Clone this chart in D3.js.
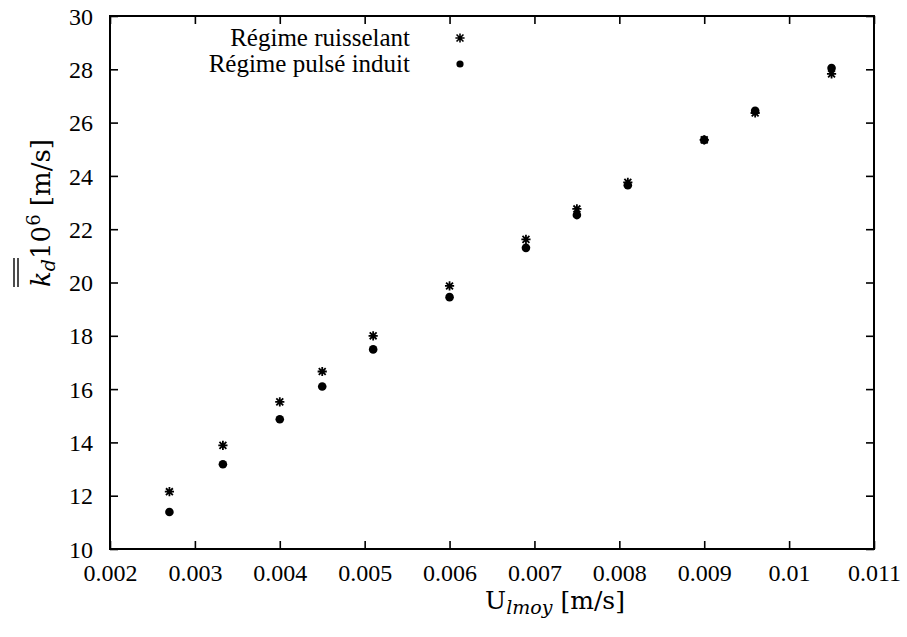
<!DOCTYPE html>
<html><head><meta charset="utf-8">
<script src="https://cdn.jsdelivr.net/npm/d3@7"></script>
<style>
body{margin:0;background:#fff;}
svg{display:block;}
</style></head>
<body><svg id="c" width="907" height="637"></svg>
<script>
const xValues = [0.0027, 0.00333, 0.0040, 0.0045, 0.0051, 0.0060, 0.0069, 0.0075, 0.0081, 0.0090, 0.0096, 0.0105];
const ruisselant = [12.15, 13.89, 15.52, 16.66, 18.0, 19.87, 21.62, 22.76, 23.76, 25.35, 26.36, 27.83];
const pulse = [11.39, 13.18, 14.87, 16.10, 17.49, 19.45, 21.30, 22.53, 23.65, 25.35, 26.44, 28.05];
const xTicks = [0.002, 0.003, 0.004, 0.005, 0.006, 0.007, 0.008, 0.009, 0.010, 0.011];
const xTickLabels = ["0.002", "0.003", "0.004", "0.005", "0.006", "0.007", "0.008", "0.009", "0.01", "0.011"];
const yTicks = [10, 12, 14, 16, 18, 20, 22, 24, 26, 28, 30];
const seriesNames = ["Régime ruisselant", "Régime pulsé induit"];

const svg = d3.select("#c");
const L = 110, R = 874, T = 16, B = 549;
const x = d3.scaleLinear().domain([0.002, 0.011]).range([L, R]);
const y = d3.scaleLinear().domain([10, 30]).range([B, T]);
const TF = '"Liberation Serif"';
const LF = '"DejaVu Serif"';

// axes with inward ticks
const tl = 8;
const fmtX = (d) => xTickLabels[xTicks.indexOf(d)];
const gxB = svg.append("g").attr("transform", `translate(0,${B})`)
  .call(d3.axisBottom(x).tickValues(xTicks).tickSizeInner(-tl).tickSizeOuter(0).tickPadding(15).tickFormat(fmtX));
const gxT = svg.append("g").attr("transform", `translate(0,${T})`)
  .call(d3.axisTop(x).tickValues(xTicks).tickSizeInner(-tl).tickSizeOuter(0).tickFormat(""));
const gyL = svg.append("g").attr("transform", `translate(${L},0)`)
  .call(d3.axisLeft(y).tickValues(yTicks).tickSizeInner(-tl).tickSizeOuter(0).tickPadding(17).tickFormat(d3.format("d")));
const gyR = svg.append("g").attr("transform", `translate(${R},0)`)
  .call(d3.axisRight(y).tickValues(yTicks).tickSizeInner(-tl).tickSizeOuter(0).tickFormat(""));
[gxB, gxT, gyL, gyR].forEach(g => {
  g.attr("font-family", null).attr("font-size", null);
  g.select(".domain").remove();
  g.selectAll(".tick line").attr("stroke", "#000").attr("stroke-width", 1.6);
  g.selectAll("text").style("font-family", TF).style("font-size", "24px").attr("fill", "#000");
});
gyL.selectAll("text").attr("dy", "0.34em");
gxB.selectAll("text").attr("dy", "0.71em");

// frame
svg.append("rect").attr("x", L).attr("y", T).attr("width", R - L).attr("height", B - T)
  .attr("fill", "none").attr("stroke", "#000").attr("stroke-width", 2);

// markers
function star(g, cx, cy, s, w) {
  const a = s, b = s * 0.75;
  const p = `M${cx - a},${cy}L${cx + a},${cy}M${cx},${cy - a}L${cx},${cy + a}M${cx - b},${cy - b}L${cx + b},${cy + b}M${cx - b},${cy + b}L${cx + b},${cy - b}`;
  g.append("path").attr("d", p).attr("stroke", "#000").attr("stroke-width", w).attr("fill", "none");
}
const gS = svg.append("g");
xValues.forEach((xv, i) => star(gS, x(xv), y(ruisselant[i]), 4.6, 1.8));
svg.append("g").selectAll("circle").data(xValues).join("circle")
  .attr("cx", d => x(d)).attr("cy", (d, i) => y(pulse[i])).attr("r", 4.3).attr("fill", "#000");

// legend
const leg = svg.append("g");
seriesNames.forEach((n, i) => {
  leg.append("text").attr("x", 410).attr("y", 46 + i * 25.5).attr("text-anchor", "end")
    .style("font-family", TF).style("font-size", "25px").attr("fill", "#000").text(n);
});
star(leg, 460, 38, 4.6, 1.6);
leg.append("circle").attr("cx", 460).attr("cy", 64).attr("r", 3.6).attr("fill", "#000");

// x label
const xl = svg.append("text").attr("x", 555).attr("y", 609).attr("text-anchor", "middle")
  .style("font-family", LF).style("font-size", "25px").attr("fill", "#000");
xl.append("tspan").text("U");
xl.append("tspan").style("font-style", "italic").style("font-size", "19px").attr("dy", 5).text("lmoy");
xl.append("tspan").attr("dy", -5).text(" [m/s]");

// y label
const gy = svg.append("g").attr("transform", "translate(50,213) rotate(-90)");
const yl = gy.append("text").attr("x", 0).attr("y", 0).attr("text-anchor", "middle")
  .style("font-family", LF).style("font-size", "26px").attr("fill", "#000");
yl.append("tspan").style("font-style", "italic").text("k");
yl.append("tspan").style("font-style", "italic").style("font-size", "19px").attr("dy", 5).text("d");
yl.append("tspan").attr("dy", -5).text("10");
yl.append("tspan").style("font-size", "18px").attr("dy", -10).text("6");
yl.append("tspan").attr("dy", 10).text(" [m/s]");
const e0 = yl.node().getExtentOfChar(0), e1 = yl.node().getExtentOfChar(1);
const x0 = e0.x, x1 = e1.x + e1.width + 1;
[-32, -36].forEach(yy => {
  gy.append("line").attr("x1", x0).attr("x2", x1).attr("y1", yy).attr("y2", yy)
    .attr("stroke", "#000").attr("stroke-width", 1.4);
});
</script></body></html>
